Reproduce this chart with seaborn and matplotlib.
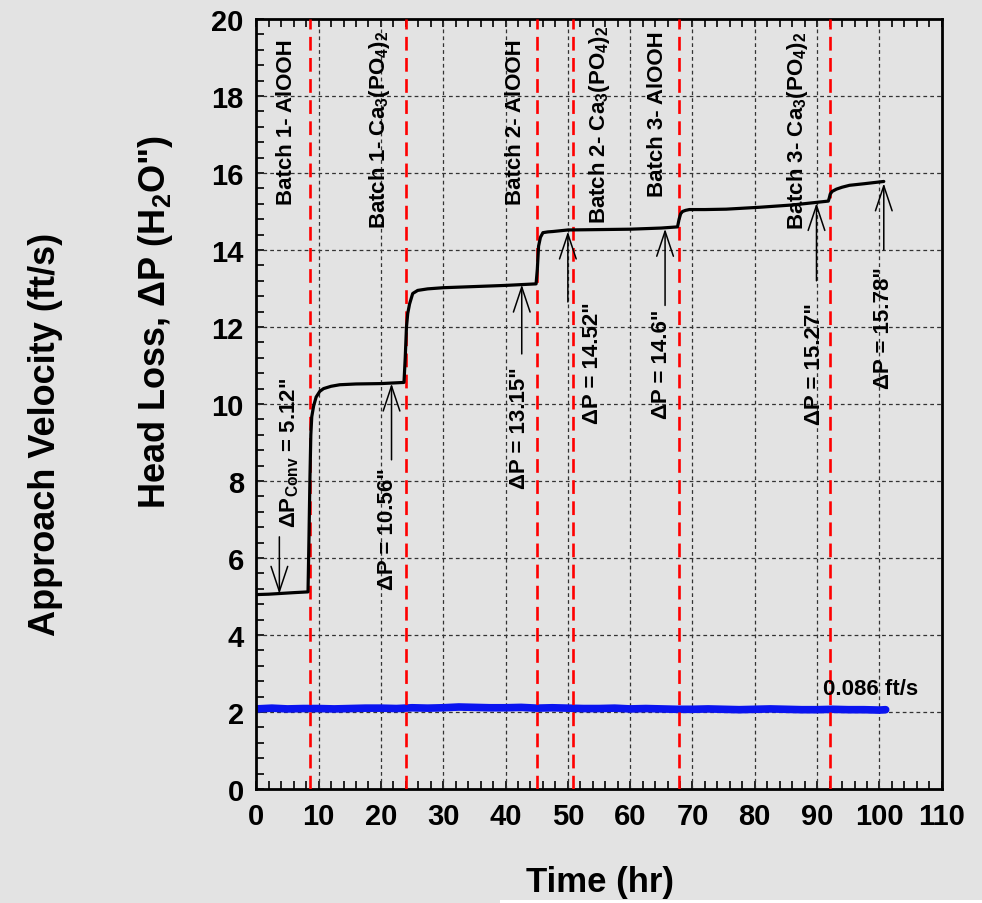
import matplotlib
matplotlib.use("Agg")
import matplotlib.pyplot as plt
from matplotlib.patches import Rectangle
import seaborn as sns
import numpy as np

# head loss curve (in. H2O) vs time (hr)
time_hr = [0, 2, 4, 6, 8.3, 8.45, 8.6, 8.75, 8.9, 9.2, 9.6, 10.2, 10.8, 12.0, 13.4,
           16, 20, 23.7, 23.9, 24.1, 24.3, 24.6, 25.1, 25.9, 27.5, 30, 35, 40, 44.9,
           45.1, 45.3, 45.6, 46.0, 46.8, 47.6, 50, 55, 60, 65, 67.6, 67.85, 68.1, 68.4,
           68.9, 69.5, 72, 75.4, 80.8, 86.1, 91.8, 91.95, 92.1, 92.4, 93.1, 94, 95.2,
           97.5, 100.7]
head_loss = [5.05, 5.06, 5.08, 5.10, 5.12, 6.5, 8.0, 9.2, 9.67, 9.95, 10.18, 10.33, 10.40,
             10.46, 10.50, 10.52, 10.53, 10.56, 11.2, 12.0, 12.35, 12.6, 12.87, 12.95,
             12.99, 13.02, 13.05, 13.08, 13.12, 13.5, 14.1, 14.33, 14.45, 14.47, 14.48,
             14.52, 14.53, 14.54, 14.57, 14.6, 14.8, 14.94, 15.0, 15.03, 15.05, 15.05,
             15.06, 15.11, 15.17, 15.27, 15.35, 15.45, 15.52, 15.58, 15.63, 15.68, 15.72,
             15.78]

# approach velocity trace (as drawn on the axis)
vel_time = [0, 2.5, 5, 7.5, 10, 12.5, 15, 17.5, 20, 22.5, 25, 27.5, 30, 32.5, 35, 37.5,
            40, 42.5, 45, 47.5, 50, 52.5, 55, 57.5, 60, 62.5, 65, 67.5, 70, 72.5, 75,
            77.5, 80, 82.5, 85, 87.5, 90, 92.5, 95, 97.5, 100, 101]
vel_vals = [2.08, 2.10, 2.08, 2.09, 2.09, 2.08, 2.09, 2.10, 2.10, 2.09, 2.11, 2.10,
            2.11, 2.13, 2.12, 2.11, 2.11, 2.12, 2.10, 2.11, 2.10, 2.09, 2.09, 2.10,
            2.08, 2.09, 2.08, 2.07, 2.07, 2.08, 2.07, 2.06, 2.07, 2.08, 2.07, 2.06,
            2.06, 2.07, 2.06, 2.06, 2.05, 2.06]

# batch addition times
batch_times = [8.6, 24.0, 45.0, 50.9, 67.9, 92.0]
batch_labels = ["Batch 1- AlOOH", r"Batch 1- Ca$_3$(PO$_4$)$_2$", "Batch 2- AlOOH",
                r"Batch 2- Ca$_3$(PO$_4$)$_2$", "Batch 3- AlOOH", r"Batch 3- Ca$_3$(PO$_4$)$_2$"]
batch_label_x = [4.9, 19.8, 41.6, 55.1, 64.4, 86.9]
batch_label_y = [17.34, 17.14, 17.34, 17.27, 17.56, 17.12]

# delta P callouts
dp_labels = [r'ΔP$_{Conv}$ = 5.12"', 'ΔP = 10.56"', 'ΔP = 13.15"', 'ΔP = 14.52"',
             'ΔP = 14.6"', 'ΔP = 15.27"', 'ΔP = 15.78"']
dp_text_x = [5.4, 21.1, 42.3, 54.0, 65.0, 89.6, 100.6]
dp_text_y = [8.75, 6.78, 9.4, 11.1, 11.06, 11.06, 12.0]
arrow_x = [3.7, 21.7, 42.6, 50.0, 65.6, 89.9, 100.7]
arrow_from = [6.55, 8.55, 11.3, 12.65, 12.56, 13.2, 14.0]
arrow_to = [5.07, 10.53, 13.1, 14.48, 14.55, 15.22, 15.73]

bg = "#e3e3e3"
sns.set_theme(style="ticks")
plt.rcParams['font.family'] = ['Liberation Sans', 'DejaVu Sans']
plt.rcParams['font.weight'] = 'bold'
plt.rcParams['text.color'] = 'black'
plt.rcParams['xtick.color'] = 'black'
plt.rcParams['ytick.color'] = 'black'
plt.rcParams['axes.labelcolor'] = 'black'
plt.rcParams['mathtext.fontset'] = 'custom'
plt.rcParams['mathtext.rm'] = 'Liberation Sans:bold'
plt.rcParams['mathtext.it'] = 'Liberation Sans:bold'
plt.rcParams['mathtext.bf'] = 'Liberation Sans:bold'
plt.rcParams['mathtext.default'] = 'regular'

fig = plt.figure(figsize=(9.82, 9.04), dpi=100, facecolor=bg)
ax = fig.add_axes([0.261, 0.1261, 0.698, 0.8518])
ax.set_facecolor(bg)

ax.set_xlim(0, 110)
ax.set_ylim(0, 20)
ax.set_xticks(np.arange(0, 111, 10))
ax.set_yticks(np.arange(0, 21, 2))
ax.set_xticks(np.arange(0, 111, 2), minor=True)
ax.set_yticks(np.arange(0, 20.01, 0.4), minor=True)

# grid
for gx in range(10, 110, 10):
    ax.axvline(gx, color="#333333", lw=0.9, ls=(0, (3, 2.5)), zorder=1)
for gy in range(2, 20, 2):
    ax.axhline(gy, color="#333333", lw=0.9, ls=(0, (3, 2.5)), zorder=1)

sns.lineplot(x=vel_time, y=vel_vals, ax=ax, color="#0a14f0", lw=5.5,
             estimator=None, sort=False, zorder=2)
for bt in batch_times:
    ax.axvline(bt, color="#ff0000", lw=1.9, ls=(0, (5.2, 2.8)), zorder=3)
sns.lineplot(x=time_hr, y=head_loss, ax=ax, color="black", lw=2.3,
             estimator=None, sort=False, zorder=4)

for lab, lx, ly in zip(batch_labels, batch_label_x, batch_label_y):
    ax.text(lx, ly, lab, rotation=90, ha="center", va="center", fontsize=16,
            fontweight="bold", color="black", zorder=5)

for lab, tx, ty in zip(dp_labels, dp_text_x, dp_text_y):
    ax.text(tx, ty, lab, rotation=90, ha="center", va="center", fontsize=16,
            fontweight="bold", color="black", zorder=5)

for axx, y0, y1 in zip(arrow_x, arrow_from, arrow_to):
    ax.annotate("", xy=(axx, y1), xytext=(axx, y0),
                arrowprops=dict(arrowstyle="->,head_length=0.9,head_width=0.3",
                                mutation_scale=20, lw=1.1, color="black",
                                shrinkA=0, shrinkB=0), zorder=5)

ax.text(98.6, 2.33, "0.086 ft/s", ha="center", va="bottom", fontsize=16,
        fontweight="bold", color="black", zorder=5)

for side in ["left", "bottom", "top", "right"]:
    ax.spines[side].set_visible(True)
    ax.spines[side].set_linewidth(2.0)
    ax.spines[side].set_color("black")
ax.tick_params(which="both", direction="in", top=True, right=False, left=True,
               bottom=True, length=6, width=1.2, color="black", labelcolor="black")
ax.tick_params(which="major", labelsize=21, pad=9)
for t in ax.get_xticklabels() + ax.get_yticklabels():
    t.set_fontweight("bold")
ax.set_xlabel("")
ax.set_ylabel("")

fig.text(0.611, 0.024, "Time (hr)", ha="center", va="center", fontsize=25,
         fontweight="bold", color="black")
fig.text(0.158, 0.644, r'Head Loss, ΔP (H$_2$O")', rotation=90, ha="center", va="center",
         fontsize=26, fontweight="bold", color="black")
fig.text(0.046, 0.519, "Approach Velocity (ft/s)", rotation=90, ha="center", va="center",
         fontsize=26, fontweight="bold", color="black")

# white strip at the bottom edge of the slide
fig.patches.append(Rectangle((0.509, 0.0), 0.491, 0.0035, transform=fig.transFigure,
                             facecolor="white", edgecolor="none"))

fig.savefig("out.png", dpi=100, facecolor=bg)
